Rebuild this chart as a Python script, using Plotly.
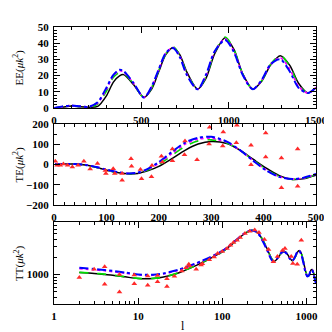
import plotly.graph_objects as go

# ---------------- EE panel ----------------
ee_l = [2, 50, 100, 150, 200, 250, 300, 340, 375, 398, 455, 515, 560, 600, 640, 682, 720, 760,
        822, 870, 920, 980, 1030, 1080, 1138, 1190, 1240, 1296, 1350, 1400, 1454, 1500]
ee_black = [0, 0.5, 1.2, 0.7, 0.5, 1.0, 7.5, 16, 19.8, 20.6, 14.5, 6.6, 11.8, 22.5, 32.9, 37.4, 33, 22.3,
            11.7, 18.3, 33.5, 43.4, 36.2, 21.2, 11.7, 16.7, 26.5, 32.3, 26.3, 15.3, 9.3, 12.5]
ee_green = [0, 0.8, 1.4, 0.9, 0.7, 2.5, 10.5, 19, 22, 21.8, 15, 6.5, 12.8, 23.3, 33.5, 37.8, 32.5, 21.5,
            11.7, 19.3, 34.5, 43.8, 36, 21, 11.7, 17, 27, 32.5, 25.5, 14.5, 9.2, 12.5]
ee_magenta = [0, 0.9, 1.5, 1.0, 0.8, 3.0, 11.5, 20, 23, 22.3, 15.3, 6.5, 13.2, 23.7, 33.8, 37.3, 32, 21,
              11.6, 20, 34.8, 42.7, 35, 20.8, 11.6, 17.2, 27, 31, 24, 13.5, 9.2, 12.6]
ee_blue = [0, 1.0, 1.5, 1.0, 0.8, 3.5, 12.5, 20.5, 23.6, 22.8, 15.5, 6.5, 13.5, 24, 34, 37, 31.5, 20.5,
           11.5, 20.5, 35, 42, 34.5, 20.5, 11.5, 17.5, 27, 30, 22.5, 12.5, 9.3, 12.8]

# ---------------- TE panel ----------------
te_l = [2, 20, 40, 60, 80, 100, 120, 140, 160, 180, 200, 225, 250, 275, 300, 330, 355, 380, 405, 430,
        455, 475, 500]
te_black = [1, 3, 2, -3, -14, -28, -40, -46, -44, -30, -9, 29, 70, 101, 114, 104, 71, 26, -18, -55,
            -74, -71, -53]
te_green = [1, 3, 2, -3, -13, -27, -39, -45, -43, -26, 0, 45, 90, 117, 122, 107, 70, 22, -24, -59,
            -73, -68, -50]
te_magenta = [1, 3, 2, -2, -12, -26, -38, -44, -41, -23, 6, 54, 100, 125, 130, 110, 70, 20, -27, -60,
              -72, -67, -48]
te_blue = [1, 3, 2, -2, -12, -25, -37, -44, -40, -20, 12, 62, 108, 132, 137, 113, 71, 19, -29, -61,
           -72, -66, -47]
te_data_l = [2.5, 6, 12, 18, 26, 35, 46, 57, 69, 83, 98, 99, 113, 116, 130, 130, 147, 148, 165, 167,
             186, 187, 205, 207, 226, 226, 249, 250, 273, 297, 296, 323, 322, 349, 348, 376, 376,
             404, 404, 434, 434, 465, 465]
te_data_v = [16, -4, -4, 2, -4, -12, -4, 16, -22, 5, -30, -45, -21, -45, -45, -78, 29, -8, -25, -70,
             -60, -5, 41, 13, 77, 18, 48, 116, 24, 184, 101, 160, 92, 194, 108, 95, -1,
             156, 37, 32, -115, 77, -107]

# ---------------- TT panel ----------------
tt_l = [2, 3, 4, 5, 7, 10, 15, 20, 30, 40, 50, 70, 100, 130, 160, 190, 220, 240, 270, 300, 340, 380,
        410, 450, 500, 540, 580, 630, 680, 730, 780, 820, 860, 920, 980, 1030, 1080, 1130, 1170, 1220,
        1260, 1300]
tt_black = [1080, 1040, 1000, 970, 910, 850, 850, 900, 1060, 1260, 1450, 1850, 2450, 3300, 4300, 5200,
            5720, 5700, 5100, 4000, 2800, 1950, 1680, 1850, 2300, 2480, 2350, 1950, 1720, 1950, 2400,
            2600, 2400, 1700, 1130, 930, 960, 1180, 1220, 1050, 850, 720]
tt_green = [1090, 1050, 1010, 975, 915, 855, 855, 905, 1065, 1270, 1460, 1860, 2460, 3320, 4320, 5220,
            5740, 5720, 5120, 4020, 2820, 1960, 1690, 1860, 2320, 2500, 2370, 1960, 1730, 1960, 2420,
            2620, 2420, 1720, 1140, 940, 970, 1190, 1230, 1060, 860, 725]
tt_magenta = [1260, 1200, 1160, 1120, 1050, 980, 970, 1020, 1180, 1380, 1560, 1930, 2530, 3380, 4380,
              5280, 5740, 5670, 5030, 3900, 2700, 1880, 1660, 1880, 2330, 2490, 2320, 1920, 1720, 1980,
              2430, 2570, 2350, 1640, 1080, 925, 980, 1195, 1200, 1020, 830, 710]
tt_blue = [1300, 1240, 1190, 1150, 1080, 1000, 990, 1040, 1200, 1400, 1580, 1950, 2550, 3400, 4400, 5300,
           5750, 5650, 5000, 3850, 2650, 1850, 1650, 1900, 2350, 2480, 2300, 1900, 1720, 2000, 2450,
           2550, 2300, 1600, 1050, 920, 990, 1200, 1190, 1000, 820, 700]
tt_data_l = [2, 3, 4, 4, 6, 6, 9, 9, 13, 13, 17, 17, 22, 22, 27, 33, 37, 40, 41, 49, 56, 58, 70, 80,
             88, 100, 114, 125, 136, 150, 163, 186, 212, 243, 273, 317, 355, 405, 453, 520, 556, 660,
             690, 778, 870]
tt_data_v = [890, 1230, 1360, 680, 500, 1000, 690, 980, 650, 940, 750, 960, 620, 840, 930, 1150, 1300,
             1500, 1400, 1230, 1450, 1530, 1800, 2000, 2300, 2500, 2800, 3200, 3560, 3900, 4350, 5100,
             5550, 5850, 5300, 4000, 2700, 1650, 2050, 2600, 2800, 2050, 1550, 1500, 3900]

tt_x_ticks = [1, 10, 100, 1000]
tt_x_minor = [2, 3, 4, 5, 6, 7, 8, 9, 20, 30, 40, 50, 60, 70, 80, 90, 200, 300, 400, 500, 600, 700, 800, 900]
tt_y_ticks = [1000]
tt_y_minor = [400, 500, 600, 700, 800, 900, 2000, 3000, 4000, 5000, 6000, 7000, 8000]

styles = [
    ("black", "solid", 1.5),
    ("#00dd00", "dash", 1.7),
    ("#ff00ff", "dot", 1.7),
    ("#0000ff", "dashdot", 2.0),
]

fig = go.Figure()


def add_models(x, series, xa, ya):
    for ys, (c, d, w) in zip(series, styles):
        fig.add_trace(go.Scatter(x=x, y=ys, mode="lines", xaxis=xa, yaxis=ya, showlegend=False,
                                 line=dict(color=c, dash=d, width=w, shape="spline", smoothing=0.8),
                                 hoverinfo="skip"))


add_models(ee_l, [ee_black, ee_green, ee_magenta, ee_blue], "x", "y")
add_models(te_l, [te_black, te_green, te_magenta, te_blue], "x2", "y2")
add_models(tt_l, [tt_black, tt_green, tt_magenta, tt_blue], "x3", "y3")

mk = dict(symbol="triangle-up", size=5, color="#ff2a2a", line=dict(width=0))
fig.add_trace(go.Scatter(x=te_data_l, y=te_data_v, mode="markers", xaxis="x2", yaxis="y2",
                         marker=mk, showlegend=False))
fig.add_trace(go.Scatter(x=tt_data_l, y=tt_data_v, mode="markers", xaxis="x3", yaxis="y3",
                         marker=mk, showlegend=False))

font = dict(family="Liberation Serif", size=11, color="black", weight="bold")
minor_base = dict(ticks="inside", ticklen=3, tickcolor="black", tickwidth=1, showgrid=False)


def ax(**kw):
    d = dict(showline=True, linecolor="black", linewidth=1, mirror="allticks", ticks="inside",
             ticklen=6, tickwidth=1, tickcolor="black", showgrid=False, zeroline=False,
             tickfont=font, ticklabelstandoff=2)
    d.update(kw)
    return d


fig.update_layout(
    width=332, height=332,
    margin=dict(l=46, r=17, t=19, b=36),
    paper_bgcolor="white", plot_bgcolor="white",
    xaxis=ax(domain=[0, 1], anchor="y", range=[0, 1500], tickmode="linear", tick0=0, dtick=500,
             minor=dict(minor_base, dtick=100)),
    yaxis=ax(domain=[0.7076, 1], anchor="x", range=[0, 50], tickmode="linear", tick0=0, dtick=10,
             minor=dict(minor_base, dtick=2)),
    xaxis2=ax(domain=[0, 1], anchor="y2", range=[0, 500], tickmode="linear", tick0=0, dtick=100,
              minor=dict(minor_base, dtick=20)),
    yaxis2=ax(domain=[0.3574, 0.6498], anchor="x2", range=[-200, 200], tickmode="linear", tick0=0,
              dtick=100, minor=dict(minor_base, dtick=50)),
    xaxis3=ax(domain=[0, 1], anchor="y3", type="log", range=[0, 3.114], tickmode="array",
              tickvals=tt_x_ticks, ticktext=[str(v) for v in tt_x_ticks],
              minor=dict(minor_base, tickmode="array", tickvals=tt_x_minor)),
    yaxis3=ax(domain=[0, 0.296], anchor="x3", type="log", range=[2.49, 3.905], tickmode="array",
              tickvals=tt_y_ticks, ticktext=[str(v) for v in tt_y_ticks],
              minor=dict(minor_base, tickmode="array", tickvals=tt_y_minor)),
)

tfont = dict(family="Liberation Serif", size=11, color="black")
for label, ymid in [("EE", (0.7076 + 1) / 2), ("TE", (0.3574 + 0.6498) / 2), ("TT", 0.296 / 2)]:
    fig.add_annotation(text=label + "(<i>μk</i><sup>2</sup>)", xref="paper", yref="paper",
                       x=-0.134, y=ymid, textangle=-90, showarrow=False, font=tfont,
                       xanchor="center", yanchor="middle")
fig.add_annotation(text="l", xref="paper", yref="paper", x=0.494, y=-0.08, showarrow=False,
                   font=dict(family="Liberation Serif", size=12, color="black"),
                   xanchor="center", yanchor="middle")

fig.write_html("out.html")
